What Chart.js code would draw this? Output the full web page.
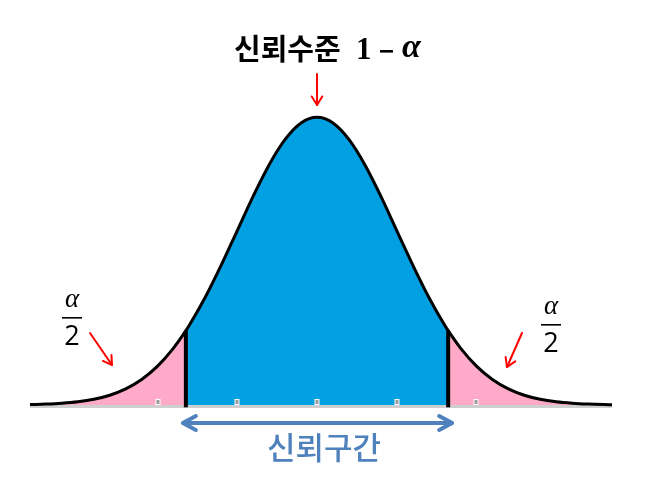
<!DOCTYPE html>
<html>
<head>
<meta charset="utf-8">
<script src="https://cdn.jsdelivr.net/npm/chart.js@4.4.1/dist/chart.umd.min.js"></script>
<style>
html,body{margin:0;padding:0;background:#fff;}
#wrap{width:648px;height:481px;}
</style>
</head>
<body>
<div id="wrap"><canvas id="c" width="648" height="481"></canvas></div>
<script>
// Standardised positions (z, in sigma units)
const zValues = [-3.6,-3.4,-3.2,-3.0,-2.8,-2.6,-2.4,-2.2,-2.0,-1.8,-1.645,-1.6,-1.4,-1.2,-1.0,-0.8,-0.6,-0.4,-0.2,0,0.2,0.4,0.6,0.8,1.0,1.2,1.4,1.6,1.645,1.8,2.0,2.2,2.4,2.6,2.8,3.0,3.2,3.4,3.6,3.7];
// Curve height relative to the peak
const curveHeights = [0.0015,0.0031,0.0060,0.0111,0.0198,0.0340,0.0561,0.0889,0.1353,0.1979,0.2585,0.2780,0.3753,0.4868,0.6065,0.7261,0.8353,0.9231,0.9802,1.0,0.9802,0.9231,0.8353,0.7261,0.6065,0.4868,0.3753,0.2780,0.2585,0.1979,0.1353,0.0889,0.0561,0.0340,0.0198,0.0111,0.0060,0.0031,0.0015,0.0011];
const lowerBound = -1.645;
const upperBound = 1.645;
const tickValues = [-2,-1,0,1,2];
const titleText = "신뢰수준";
const titleOne = "1";
const titleMinus = "−";
const alphaSymbol = "α";
const intervalLabel = "신뢰구간";

const pts = zValues.map((z,i)=>({x:z,y:curveHeights[i]}));
const leftTail = pts.filter(p=>p.x<=lowerBound);
const middle = pts.filter(p=>p.x>=lowerBound && p.x<=upperBound);
const rightTail = pts.filter(p=>p.x>=upperBound);
const hAt = v => curveHeights[zValues.indexOf(v)];

const BLUE = '#00A0E3', PINK = '#FFAAC8', RED = '#FF0000', NAVY = '#4F81BD';

function arrowHead(ctx, x, y, ang, len, spread){
  ctx.beginPath();
  ctx.moveTo(x - len*Math.cos(ang-spread), y - len*Math.sin(ang-spread));
  ctx.lineTo(x, y);
  ctx.lineTo(x - len*Math.cos(ang+spread), y - len*Math.sin(ang+spread));
  ctx.stroke();
}
function arrow(ctx, x1,y1,x2,y2,color,w,len){
  ctx.save();
  ctx.strokeStyle=color; ctx.lineWidth=w; ctx.lineCap='round'; ctx.lineJoin='round';
  ctx.beginPath(); ctx.moveTo(x1,y1); ctx.lineTo(x2,y2); ctx.stroke();
  arrowHead(ctx,x2,y2,Math.atan2(y2-y1,x2-x1),len,0.55);
  ctx.restore();
}
function fraction(ctx, cx, top){
  ctx.save();
  ctx.fillStyle='#000'; ctx.textAlign='center'; ctx.textBaseline='alphabetic';
  ctx.font='italic 27px "Liberation Serif"';
  ctx.fillText(alphaSymbol, cx, top+17);
  ctx.fillRect(cx-10, top+27, 20, 1.6);
  ctx.font='27px "Open Sans"';
  ctx.fillText('2', cx, top+55);
  ctx.restore();
}

const decor = {
  id:'decor',
  beforeDatasetsDraw(chart){
    const ctx=chart.ctx, xs=chart.scales.x, ys=chart.scales.y;
    const y0=ys.getPixelForValue(0);
    ctx.save();
    ctx.strokeStyle='#CFCFCF'; ctx.lineWidth=3;
    ctx.beginPath(); ctx.moveTo(xs.left,y0+1.5); ctx.lineTo(xs.right,y0+1.5); ctx.stroke();
    ctx.restore();
  },
  afterDatasetsDraw(chart){
    const ctx=chart.ctx, xs=chart.scales.x, ys=chart.scales.y;
    const y0=ys.getPixelForValue(0);
    ctx.save();
    tickValues.forEach(t=>{
      const px=Math.round(xs.getPixelForValue(t));
      ctx.fillStyle='#FFFFFF'; ctx.fillRect(px-2.5,y0-6,5,6);
      ctx.fillStyle='#9A9A9A'; ctx.fillRect(px-1.5,y0-5,3,4);
    });
    ctx.restore();
  },
  afterDraw(chart){
    const ctx=chart.ctx, xs=chart.scales.x, ys=chart.scales.y;
    const cx=xs.getPixelForValue(0);
    // Title
    ctx.save();
    ctx.fillStyle='#000'; ctx.textBaseline='middle'; ctx.textAlign='left';
    ctx.font='bold 29px "Noto Sans CJK KR"';
    ctx.fillText(titleText,234,49);
    ctx.font='bold 31px "Liberation Serif"';
    ctx.fillText(titleOne,356,51);
    ctx.fillRect(380,50,13,2.6);
    ctx.font='bold italic 34px "Liberation Serif"';
    ctx.fillText(alphaSymbol,402,48);
    ctx.restore();
    // Red arrows
    arrow(ctx,cx,74,cx,105,RED,2,10);
    arrow(ctx,90,333,112,365,RED,2,10);
    arrow(ctx,522,333,507,367,RED,2,10);
    // alpha/2 labels
    fraction(ctx,72,290);
    fraction(ctx,551,297);
    // Interval arrow
    const xl=xs.getPixelForValue(lowerBound)-3, xr=xs.getPixelForValue(upperBound)+4;
    ctx.save();
    ctx.strokeStyle=NAVY; ctx.lineWidth=4; ctx.lineCap='round'; ctx.lineJoin='round';
    ctx.beginPath(); ctx.moveTo(xl+1,423); ctx.lineTo(xr-1,423); ctx.stroke();
    ctx.beginPath(); ctx.moveTo(xl+13,416); ctx.lineTo(xl,423); ctx.lineTo(xl+13,430); ctx.stroke();
    ctx.beginPath(); ctx.moveTo(xr-13,416); ctx.lineTo(xr,423); ctx.lineTo(xr-13,430); ctx.stroke();
    ctx.fillStyle=NAVY; ctx.textAlign='center'; ctx.textBaseline='middle';
    ctx.font='500 31px "Noto Sans CJK KR"';
    ctx.fillText(intervalLabel,324,447);
    ctx.restore();
  }
};

const common = {pointRadius:0, borderWidth:0, tension:0.4, cubicInterpolationMode:'monotone', fill:'origin'};
new Chart(document.getElementById('c'),{
  type:'scatter',
  data:{datasets:[
    {data:pts, showLine:true, borderColor:'#000', borderWidth:3, pointRadius:0, cubicInterpolationMode:'monotone', fill:false, order:0, clip:false},
    {data:[{x:lowerBound,y:-0.008},{x:lowerBound,y:hAt(lowerBound)}], showLine:true, borderColor:'#000', borderWidth:4, pointRadius:0, fill:false, order:0, clip:false},
    {data:[{x:upperBound,y:-0.008},{x:upperBound,y:hAt(upperBound)}], showLine:true, borderColor:'#000', borderWidth:4, pointRadius:0, fill:false, order:0, clip:false},
    Object.assign({data:middle, showLine:true, backgroundColor:BLUE, borderColor:BLUE, order:2}, common),
    Object.assign({data:leftTail, showLine:true, backgroundColor:PINK, borderColor:PINK, order:3}, common),
    Object.assign({data:rightTail, showLine:true, backgroundColor:PINK, borderColor:PINK, order:3}, common)
  ]},
  options:{
    responsive:false, animation:false,
    layout:{padding:{left:30,right:36,top:31,bottom:76}},
    plugins:{legend:{display:false}, tooltip:{enabled:false}},
    scales:{
      x:{type:'linear', min:-3.6, max:3.7, display:false},
      y:{min:0, max:1.3, display:false}
    }
  },
  plugins:[decor]
});
</script>
</body>
</html>
